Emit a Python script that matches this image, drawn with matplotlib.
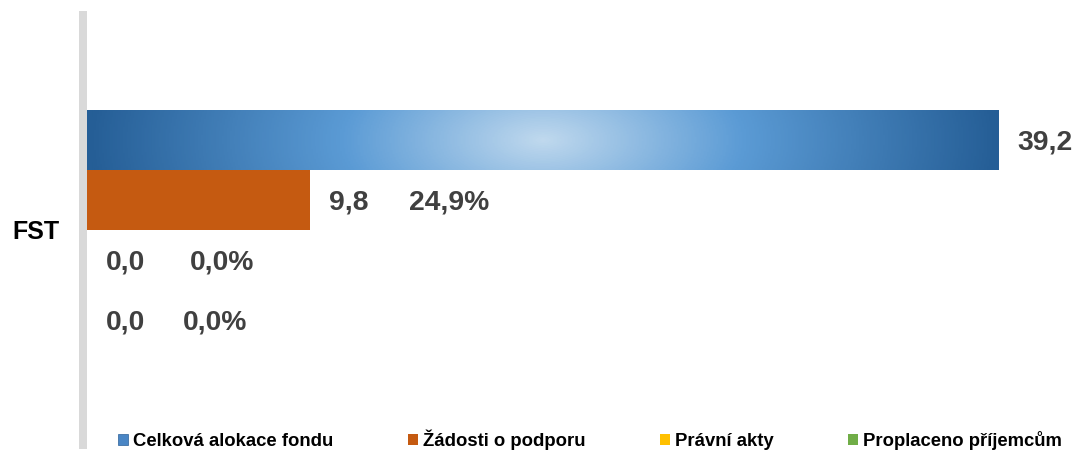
import numpy as np
import matplotlib
matplotlib.use("Agg")
import matplotlib.pyplot as plt
from matplotlib.colors import LinearSegmentedColormap
from matplotlib.patches import Patch

plt.rcParams['font.family'] = ['Liberation Sans', 'DejaVu Sans']

# ---- data ----
categories = ["FST"]
series_names = ["Celková alokace fondu", "Žádosti o podporu", "Právní akty", "Proplaceno příjemcům"]
values = [39.2, 9.6, 0.0, 0.0]
value_labels = ["39,2", "9,8", "0,0", "0,0"]
pct_labels = [None, "24,9%", "0,0%", "0,0%"]

# ---- styles ----
colors = ["#4a86c5", "#c55a11", "#ffc000", "#70ad47"]
pct_offsets_px = [0, 99, 103, 96]
label_color = "#404040"

W, H = 1082, 457
fig = plt.figure(figsize=(W / 100, H / 100), dpi=100)
ax_left, ax_right = 87, 1040
ax_top, ax_bottom = 11, 449
ax = fig.add_axes([ax_left / W, 1 - ax_bottom / H, (ax_right - ax_left) / W, (ax_bottom - ax_top) / H])

n = len(series_names)
h = 1.0 / n
xmax = 39.2 * (ax_right - ax_left) / (998.5 - ax_left)
half = (ax_bottom - ax_top) / 2 / 240.0

bars = []
for i, (name, v) in enumerate(zip(series_names, values)):
    off = (i - (n - 1) / 2) * h
    b = ax.barh(0 + off, v, height=h, color=colors[i], label=name, zorder=2)
    bars.append(b[0])

# gradient for first bar
cmap = LinearSegmentedColormap.from_list(
    "g", [(0.0, "#255e96"), (0.28, "#5b9bd5"), (0.5, "#c0d9ee"), (0.72, "#5b9bd5"), (1.0, "#255e96")])
p = bars[0]
x0, y0, bw, bh = p.get_x(), p.get_y(), p.get_width(), p.get_height()
u = np.linspace(-1, 1, 600)
v = np.linspace(-1, 1, 60)
U, V = np.meshgrid(u, v)
R = np.clip(np.sqrt(U ** 2 + 0.02 * V ** 2), 0, 1)
grad = (1 - R) * 0.5
im = ax.imshow(grad, cmap=cmap, vmin=0, vmax=1, extent=[x0, x0 + bw, y0 + bh, y0],
               aspect='auto', zorder=3, interpolation='bilinear')
im.set_clip_path(p)
ax.set_xlim(0, xmax)
ax.set_ylim(half, -half)

# labels
for i, p in enumerate(bars):
    yc = p.get_y() + p.get_height() / 2
    xe = p.get_x() + p.get_width()
    ax.annotate(value_labels[i], (xe, yc), xytext=(19 * 0.72, -2 * 0.72), textcoords='offset points',
                ha='left', va='center', fontsize=20.3, fontweight='bold', color=label_color, zorder=5)
    if pct_labels[i]:
        ax.annotate(pct_labels[i], (xe, yc), xytext=(pct_offsets_px[i] * 0.72, -2 * 0.72),
                    textcoords='offset points', ha='left', va='center', fontsize=20.3,
                    fontweight='bold', color=label_color, zorder=5)

# category label
ax.set_yticks([])
for ci, cat in enumerate(categories):
    ax.annotate(cat, (0, ci), xycoords=('axes fraction', 'data'), xytext=(-27 * 0.72, -2 * 0.72),
                textcoords='offset points', ha='right', va='center', fontsize=18,
                fontweight='bold', color='black')

ax.set_xticks([])
for s in ['top', 'right', 'bottom']:
    ax.spines[s].set_visible(False)
ax.spines['left'].set_color('#d9d9d9')
ax.spines['left'].set_linewidth(8 * 0.72)
ax.spines['left'].set_capstyle('butt')
ax.spines['left'].set_position(('outward', 4 * 0.72))

handles = [Patch(facecolor=c, edgecolor='none') for c in colors]
handles[0] = Patch(facecolor="#4a86c5", edgecolor="#2a6099", linewidth=0.5)
leg = fig.legend(handles, series_names, loc='center', bbox_to_anchor=(590 / W, 1 - 440 / H),
                 ncol=4, frameon=False, prop={'weight': 'bold', 'size': 13.3},
                 handlelength=0.55, handleheight=0.55, handletextpad=0.25, columnspacing=4.05)

fig.savefig("out.png", dpi=100)
